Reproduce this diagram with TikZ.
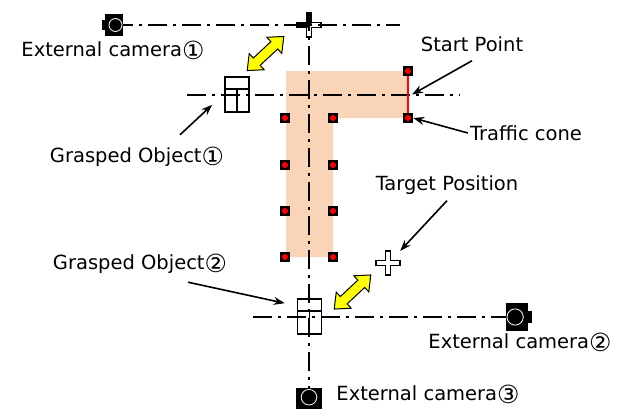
\documentclass[tikz,border=0pt]{standalone}
\usepackage{xcolor}
\usepackage{fontspec}
\usepackage{tikz}
\usetikzlibrary{arrows.meta,calc}
\newfontfamily\lblfont{DejaVu Sans}
\definecolor{conepeach}{RGB}{249,212,182}
\definecolor{swapyellow}{RGB}{255,255,0}
\definecolor{conered}{RGB}{255,0,0}
\newcommand\cnum[1]{\raisebox{-2.5pt}{\fontsize{25}{23}\selectfont #1}}

\tikzset{
  axisline/.style={line width=1.8pt, dash pattern=on 19pt off 6pt on 3pt off 6pt},
  lbl/.style={font=\lblfont\fontsize{19.5}{23}\selectfont, inner sep=2pt},
  pointer/.style={line width=1.6pt, -{Stealth[length=11pt,width=8pt]}},
  cone/.style={fill=black, minimum size=10pt, inner sep=0pt,
    path picture={\fill[conered] (path picture bounding box.center) circle (3pt);}},
  gobj/.style={draw, line width=1.6pt, minimum width=24pt, minimum height=35pt, inner sep=0pt,
    path picture={\draw[line width=1.6pt] ([yshift=-12pt]path picture bounding box.north west) -- ([yshift=-12pt]path picture bounding box.north east);
      \draw[line width=1.6pt] ([yshift=-12pt]path picture bounding box.north) -- (path picture bounding box.south);}},
  pics/swaparrow/.style={code={
    \draw[fill=swapyellow, line width=1pt] (-25,0) -- (-12,-11) -- (-12,-5) -- (12,-5) -- (12,-11) -- (25,0)
      -- (12,11) -- (12,5) -- (-12,5) -- (-12,11) -- cycle;
  }},
  pics/extcam/.style={code={
    \fill (-9,-11) rectangle (9,11);
    \fill (-12,-5) rectangle (-9,5);
    \draw[white, line width=0.8pt] (1.5,0) circle (6.5pt);
  }},
  pics/plusmark/.style={code={
    \draw[fill=white, line width=1.2pt] (-2.5,-12) -- (2.5,-12) -- (2.5,-2.5) -- (12,-2.5) -- (12,2.5) -- (2.5,2.5)
      -- (2.5,12) -- (-2.5,12) -- (-2.5,2.5) -- (-12,2.5) -- (-12,-2.5) -- (-2.5,-2.5) -- cycle;
  }}
}

\begin{document}
\begin{tikzpicture}[x=1pt, y=-1pt]
\clip (0,0) rectangle (629,408);
\fill[conepeach] (286,71) -- (407,71) -- (407,118) -- (333,118) -- (333,257) -- (286,257) -- cycle;
\coordinate (cam1) at (114,25);
\coordinate (cam2) at (517,317);
\coordinate (cam3) at (309,399);
\coordinate (l1end) at (400,25);
\coordinate (vtop) at (309,12);
\coordinate (l2a) at (187,95);
\coordinate (l2b) at (460,95);
\coordinate (l3a) at (253,317);
\pic at (309,25) {plusmark};
\fill (306.5,13) rectangle (311.5,25) (297,22.5) rectangle (309,27.5);
\draw[axisline] (cam1) -- (l1end);
\draw[axisline] (vtop) -- (cam3);
\draw[axisline] (l2a) -- (l2b);
\draw[axisline] (l3a) -- (cam2);

\foreach \y [count=\i] in {118,165,211,257} {
    \node[cone] (cl\i) at (285,\y) {};
    \node[cone] (cr\i) at (333,\y) {};
}
\node[cone] (cs1) at (408,71) {};
\node[cone] (cs2) at (408,118) {};
\draw[conered, line width=2pt] (cs1.south) -- (cs2.north);
\coordinate (sp) at ($(cs1)!0.5!(cs2)+(4,0)$);

\node[gobj] (obj1) at (237,94.5) {};
\node[gobj] (obj2) at (309.5,316.5) {};
\pic at (cam1) {extcam};
\pic[rotate=180, scale=1.25] at (cam2) {extcam};
\pic[rotate=90, scale=1.2] at (cam3) {extcam};
\node[inner sep=0pt, minimum size=24pt] (target) at (388,263) {};
\pic at (target) {plusmark};
\pic[rotate=43] at (265.5,53.5) {swaparrow};
\pic[rotate=43] at (352.5,292) {swaparrow};

\node[lbl] (cam1lbl) at (113,50) {External camera\cnum{①}};
\node[lbl] (obj1lbl) at (137,157) {Grasped Object\cnum{①}};
\node[lbl] (splbl) at (472,44) {Start Point};
\node[lbl] (tclbl) at (526,133) {Traffic cone};
\node[lbl] (tplbl) at (447,185) {Target Position};
\node[lbl] (obj2lbl) at (140,264) {Grasped Object\cnum{②}};
\node[lbl] (cam2lbl) at (520,342) {External camera\cnum{②}};
\node[lbl] (cam3lbl) at (428,394) {External camera\cnum{③}};

\draw[pointer] ([yshift=-7pt]splbl.south) -- (sp);
\draw[pointer] (tclbl.west) -- (cs2.east);
\draw[pointer] ([yshift=-4pt]tplbl.south) -- (target.north east);
\draw[pointer] ([xshift=43pt,yshift=10pt]obj1lbl.north) -- ($(obj1.south west)+(-12,-8)$);
\draw[pointer] ([xshift=48pt,yshift=-6pt]obj2lbl.south) -- ($(obj2.north west)+(-12,5)$);
\end{tikzpicture}
\end{document}
